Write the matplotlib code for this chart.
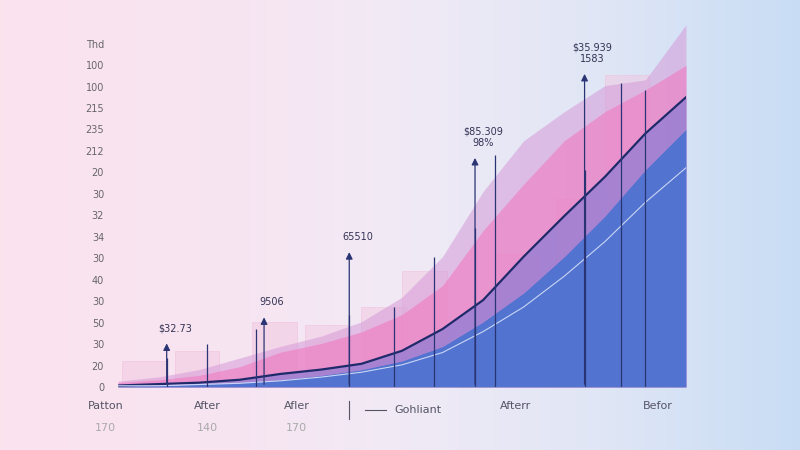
import numpy as np
import matplotlib.pyplot as plt
from matplotlib.colors import LinearSegmentedColormap

x = [0, 1, 2, 3, 4, 5, 6, 7, 8, 9, 10, 11, 12, 13, 14]
blue_top = [1, 1, 2, 3, 5, 8, 12, 18, 28, 45, 65, 90, 118, 150, 178]
navy_line = [1, 2, 3, 5, 9, 12, 16, 25, 40, 60, 90, 118, 145, 175, 200]
pink_top = [3, 5, 8, 14, 24, 30, 38, 50, 70, 108, 140, 170, 190, 205, 222]
purple_top = [4, 7, 12, 20, 28, 35, 45, 62, 90, 135, 170, 190, 208, 212, 250]
bar_x = [0.1, 1.4, 3.3, 4.6, 6.0, 7.0, 9.3, 10.8, 12.0]
bar_h = [18, 25, 45, 43, 55, 80, 92, 130, 215]
vline_x = [1.2, 2.2, 3.4, 5.7, 6.8, 7.8, 8.8, 9.3, 11.5, 12.4, 13.0]
vline_h = [20, 30, 40, 50, 55, 90, 110, 160, 150, 210, 205]
arrow_x = [1.2, 3.6, 5.7, 8.8, 11.5]
arrow_h = [32, 50, 95, 160, 218]
arrow_lbl = ["$32.73", "9506", "65510", "$85.309\n98%", "$35.939\n1583"]
ytick_lbls = ["0", "20", "30", "50", "30", "40", "30", "34", "32", "30", "20", "212", "235", "215", "100", "100", "Thd"]
xtick_lbls = [("Patton", "170"), ("After", "140"), ("Afler", "170"), ("Afterr", ""), ("Befor", "")]
xtick_pos = [-0.3, 2.2, 4.4, 9.8, 13.3]

fig = plt.figure(figsize=(8, 4.5), dpi=100)
bg = fig.add_axes([0, 0, 1, 1])
cmap = LinearSegmentedColormap.from_list("bg", ["#fbe3ee", "#f8e4f1", "#f1eaf5", "#e0e6f6", "#c8ddf4"])
grad = np.linspace(0, 1, 256)[None, :]
bg.imshow(grad, aspect="auto", cmap=cmap, extent=[0, 1, 0, 1])
bg.axis("off")

ax = fig.add_axes([0.1475, 0.14, 0.71, 0.805])
ax.set_facecolor("none")
ax.set_xlim(0, 14)
ax.set_ylim(0, 250)
for i in range(len(bar_x)):
    ax.bar(bar_x[i], bar_h[i], width=1.1, color="#f2c6e0", alpha=0.5, edgecolor="#f0b8d8", lw=0.6, align="edge")
ax.fill_between(x, 0, purple_top, color="#d59ad8", alpha=0.55, lw=0)
ax.fill_between(x, 0, pink_top, color="#f17ac0", alpha=0.6, lw=0)
ax.fill_between(x, 0, blue_top, color="#4a72d0", alpha=0.95, lw=0)
ax.fill_between(x, blue_top, navy_line, color="#7a78d6", alpha=0.6, lw=0)
ax.plot(x, navy_line, color="#1f2a6b", lw=1.6)
ax.plot(x, [b * 0.85 for b in blue_top], color="#c9d6f5", lw=0.8)
for vx, vh in zip(vline_x, vline_h):
    ax.vlines(vx, 0, vh, color="#2a3474", lw=0.9)
for ax_, h, l in zip(arrow_x, arrow_h, arrow_lbl):
    ax.annotate("", xy=(ax_, h), xytext=(ax_, 0), arrowprops=dict(arrowstyle="-|>", color="#2a3474", lw=0.9))
    ax.text(ax_ + 0.2, h + 5, l, fontsize=7, color="#333355", ha="center", va="bottom")
ax.axhline(0, color="#999999", lw=0.8)
for s in ax.spines.values():
    s.set_visible(False)
ax.set_xticks([])
ax.set_yticks(np.linspace(0, 237, len(ytick_lbls)))
ax.set_yticklabels(ytick_lbls, fontsize=7, color="#666666")
ax.tick_params(axis="y", length=0, pad=10)
for (a, b), p in zip(xtick_lbls, xtick_pos):
    ax.text(p, -10, a, fontsize=8, color="#555566", ha="center", va="top")
    ax.text(p, -25, b, fontsize=8, color="#aaaaaa", ha="center", va="top")
ax.plot([6.1, 6.6], [-16, -16], color="#555566", lw=0.8, clip_on=False)
ax.plot([5.7, 5.7], [-10, -22], color="#555566", lw=0.8, clip_on=False)
ax.text(6.8, -16, "Gohliant", fontsize=8, color="#555566", va="center")
fig.savefig("out.png", dpi=100)
